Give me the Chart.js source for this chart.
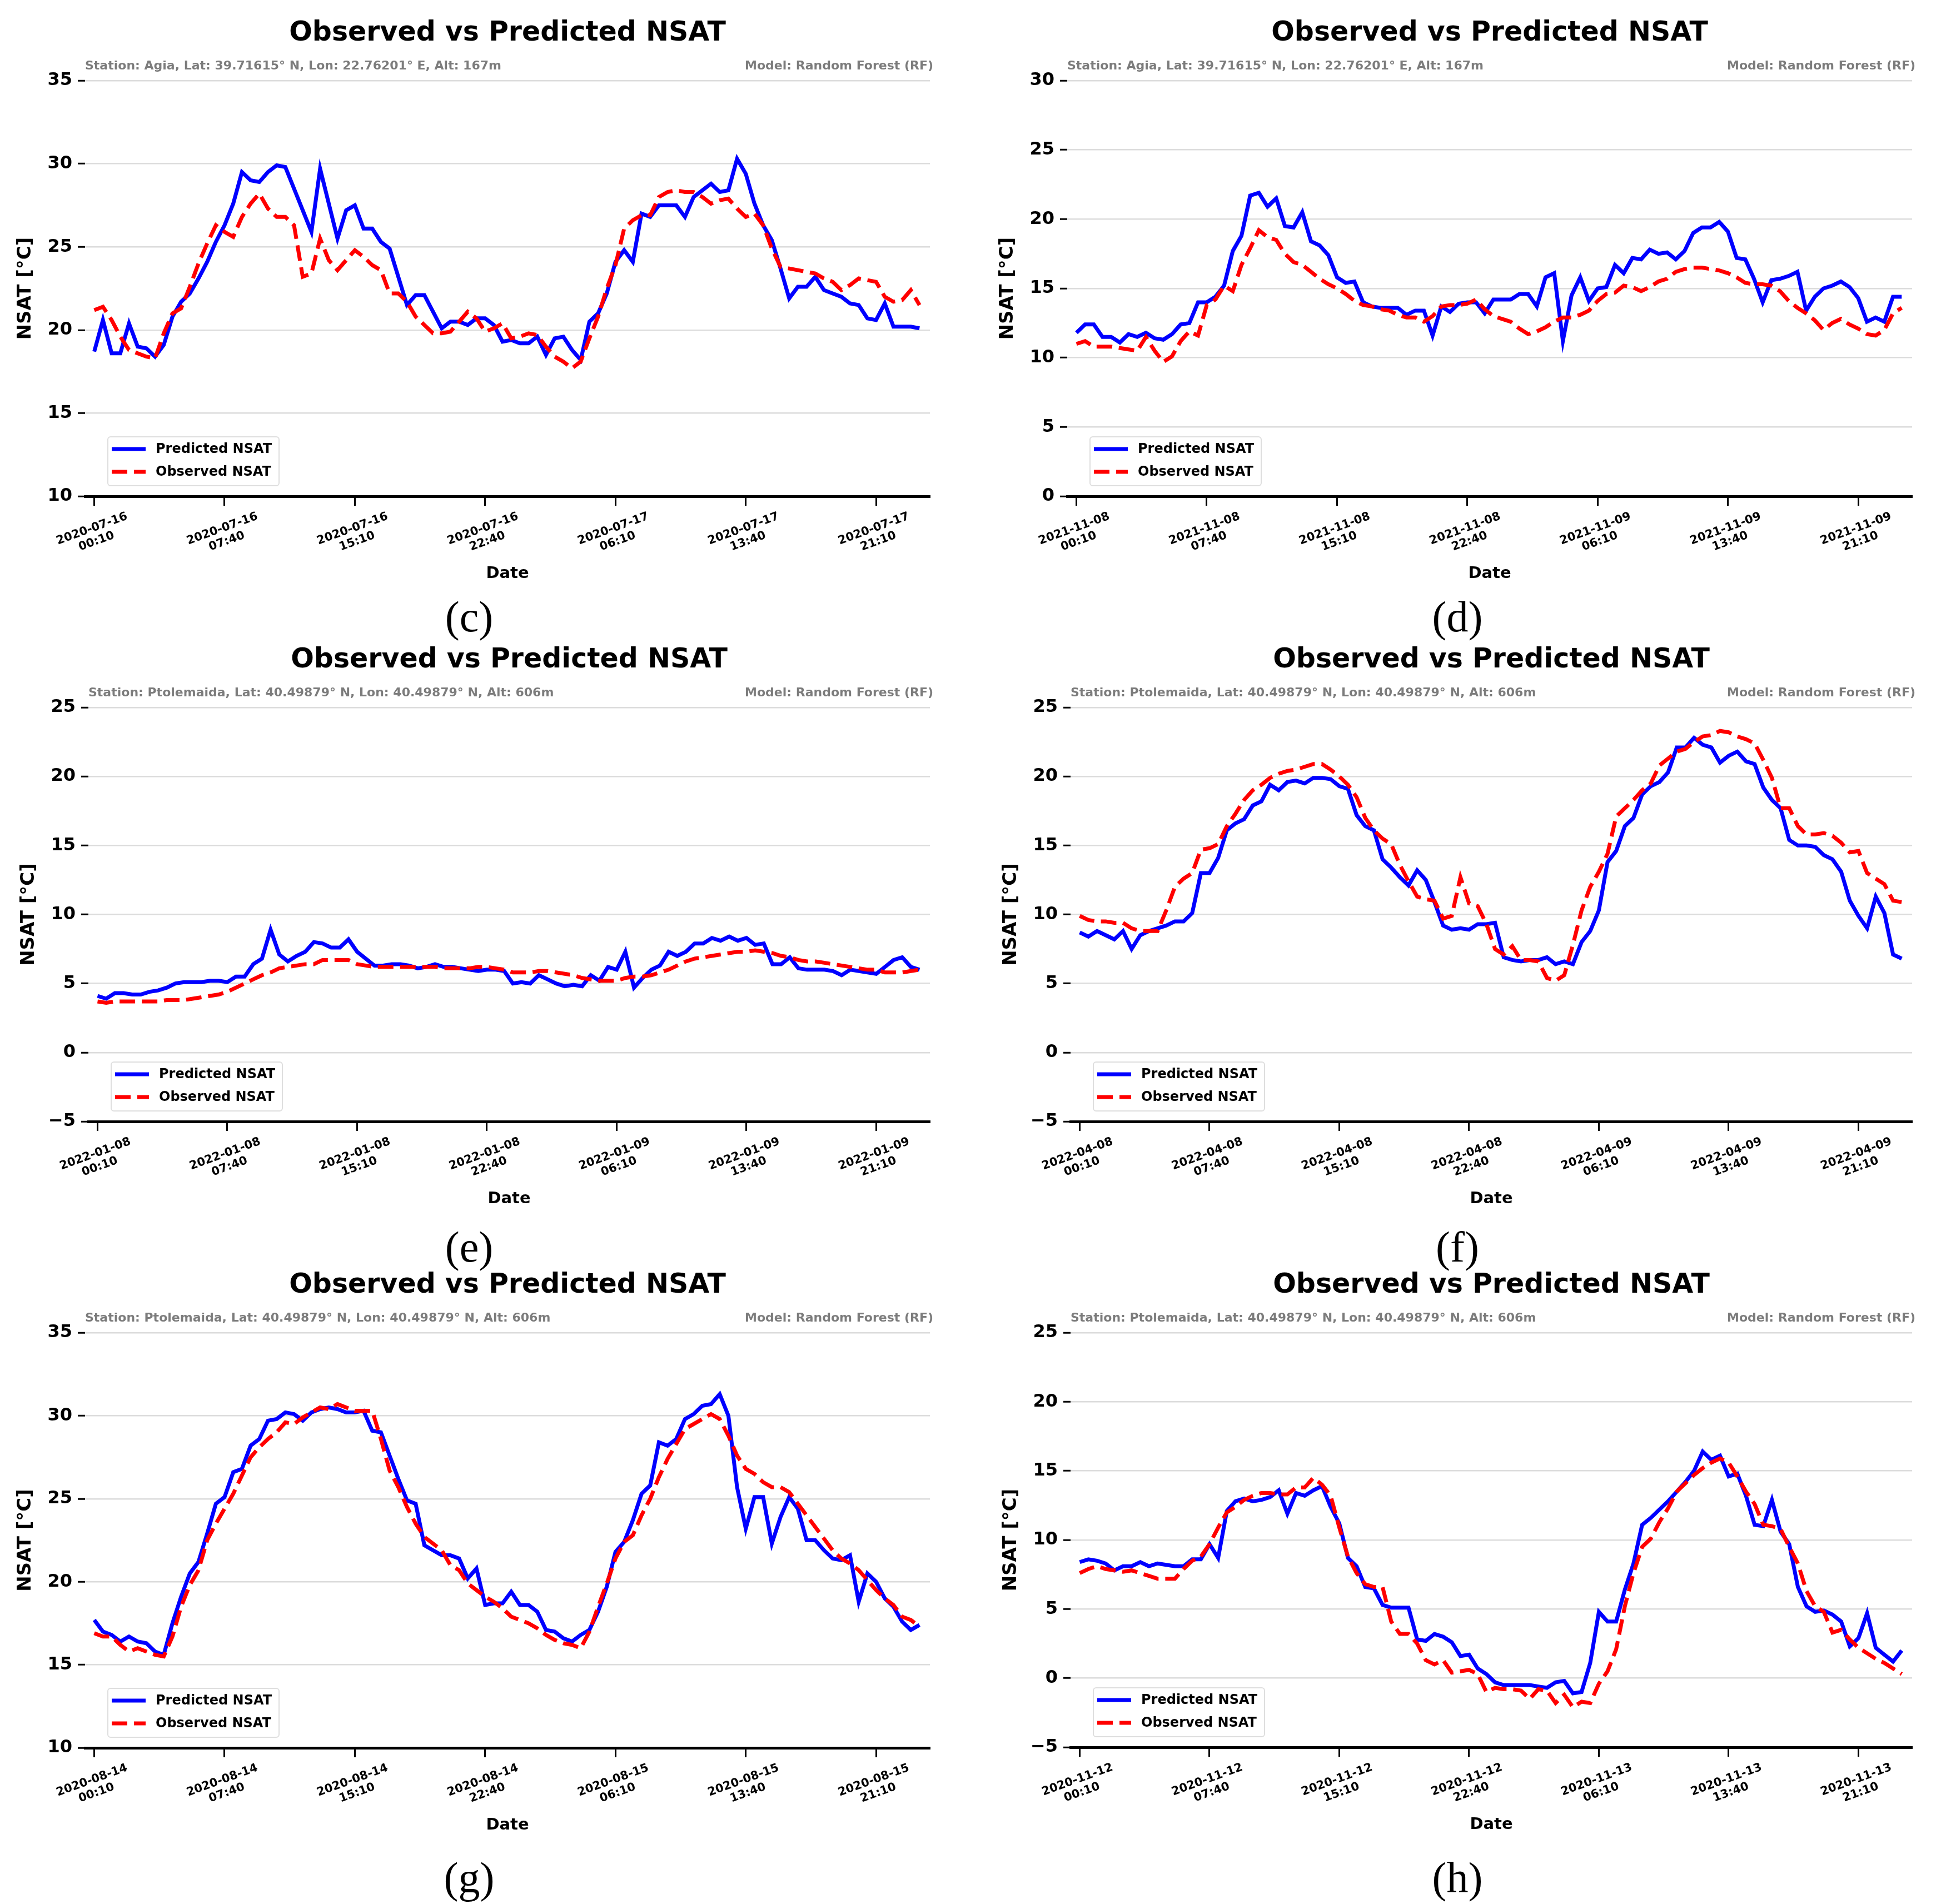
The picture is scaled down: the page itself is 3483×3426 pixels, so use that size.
<!DOCTYPE html>
<html>
<head>
<meta charset="utf-8">
<script src="https://cdn.jsdelivr.net/npm/chart.js@4.4.1/dist/chart.umd.min.js"></script>
<style>
  html, body { margin: 0; padding: 0; background: #fff; }
  body { width: 3483px; height: 3426px; position: relative; overflow: hidden; }
  canvas { position: absolute; }
  .cap { position: absolute; font-family: 'Liberation Serif', 'DejaVu Serif', serif; font-size: 78px; color: #000;
         transform: translate(-50%, -50%); white-space: nowrap; }
</style>
</head>
<body>
<script>
// x ticks every 7.5 h (15 half-hour steps)
const tickIdx = [0, 15, 30, 45, 60, 75, 90];
const tickTimes = ['00:10', '07:40', '15:10', '22:40', '06:10', '13:40', '21:10'];

const stationAgia = 'Station: Agia, Lat: 39.71615° N, Lon: 22.76201° E, Alt: 167m';
const stationPtol = 'Station: Ptolemaida, Lat: 40.49879° N, Lon: 40.49879° N, Alt: 606m';
const modelName = 'Model: Random Forest (RF)';

// (c) Agia, July 2020
const cDays = ['2020-07-16', '2020-07-17'];
const cPred = [18.7,20.6,18.6,18.6,20.4,19.0,18.9,18.4,19.1,20.8,21.7,22.2,23.1,24.1,25.3,26.3,27.6,29.5,29.0,28.9,
  29.5,29.9,29.8,28.5,27.2,25.9,29.7,27.6,25.5,27.2,27.5,26.1,26.1,25.3,24.9,23.2,21.5,22.1,22.1,21.1,
  20.1,20.5,20.5,20.3,20.7,20.7,20.3,19.3,19.4,19.2,19.2,19.6,18.5,19.5,19.6,18.8,18.2,20.5,21.0,22.2,
  24.1,24.8,24.1,27.0,26.8,27.5,27.5,27.5,26.8,28.0,28.4,28.8,28.3,28.4,30.3,29.4,27.6,26.3,25.4,23.7,
  21.9,22.6,22.6,23.2,22.4,22.2,22.0,21.6,21.5,20.7,20.6,21.6,20.2,20.2,20.2,20.1];
const cObs = [21.2,21.4,20.6,19.6,18.8,18.6,18.4,18.3,19.8,21.0,21.3,22.6,24.0,25.2,26.3,25.9,25.6,26.8,27.6,28.2,
  27.3,26.8,26.8,26.3,23.2,23.4,25.5,24.2,23.6,24.2,24.8,24.4,23.9,23.6,22.2,22.2,21.7,20.8,20.3,19.8,
  19.8,19.9,20.5,21.1,20.7,19.9,20.1,20.4,19.5,19.6,19.8,19.7,19.0,18.4,18.1,17.7,18.1,19.5,20.8,22.5,
  23.9,26.1,26.6,26.9,26.9,28.0,28.3,28.4,28.3,28.3,28.0,27.6,27.8,27.9,27.3,26.8,27.0,26.3,24.9,23.8,
  23.7,23.6,23.5,23.4,23.1,22.9,22.4,22.7,23.1,23.0,22.9,22.0,21.7,21.8,22.4,21.5];

// (d) Agia, November 2021
const dDays = ['2021-11-08', '2021-11-09'];
const dPred = [11.8,12.4,12.4,11.5,11.5,11.1,11.7,11.5,11.8,11.4,11.3,11.7,12.4,12.5,14.0,14.0,14.4,15.2,17.7,18.8,
  21.7,21.9,20.9,21.5,19.5,19.4,20.5,18.4,18.1,17.4,15.8,15.4,15.5,14.0,13.7,13.6,13.6,13.6,13.1,13.4,
  13.4,11.6,13.7,13.3,13.9,14.0,14.0,13.2,14.2,14.2,14.2,14.6,14.6,13.7,15.8,16.1,11.2,14.5,15.8,14.1,
  15.0,15.1,16.7,16.1,17.2,17.1,17.8,17.5,17.6,17.1,17.7,19.0,19.4,19.4,19.8,19.1,17.2,17.1,15.7,14.0,
  15.6,15.7,15.9,16.2,13.4,14.4,15.0,15.2,15.5,15.1,14.3,12.6,12.9,12.6,14.4,14.4];
const dObs = [11.0,11.2,10.8,10.8,10.8,10.7,10.6,10.5,11.5,10.5,9.7,10.1,11.2,11.9,11.6,13.8,14.2,15.2,14.8,16.7,
  17.9,19.2,18.7,18.5,17.5,16.9,16.7,16.2,15.7,15.3,15.0,14.6,14.1,13.8,13.7,13.5,13.4,13.1,12.9,12.9,
  12.6,13.0,13.7,13.8,13.8,13.9,14.2,13.5,13.0,12.8,12.6,12.1,11.7,11.9,12.2,12.6,12.9,12.9,13.1,13.4,
  14.1,14.6,14.7,15.2,15.1,14.8,15.1,15.5,15.7,16.2,16.4,16.5,16.5,16.4,16.3,16.1,15.8,15.4,15.3,15.3,
  15.2,14.8,14.1,13.6,13.2,12.7,12.0,12.5,12.8,12.4,12.1,11.7,11.6,12.0,13.2,13.6];

// (e) Ptolemaida, January 2022
const eDays = ['2022-01-08', '2022-01-09'];
const ePred = [4.1,3.9,4.3,4.3,4.2,4.2,4.4,4.5,4.7,5.0,5.1,5.1,5.1,5.2,5.2,5.1,5.5,5.5,6.4,6.8,
  8.9,7.1,6.6,7.0,7.3,8.0,7.9,7.6,7.6,8.2,7.3,6.8,6.3,6.3,6.4,6.4,6.3,6.1,6.2,6.4,
  6.2,6.2,6.1,6.0,5.9,6.0,6.0,5.9,5.0,5.1,5.0,5.6,5.3,5.0,4.8,4.9,4.8,5.6,5.2,6.2,
  6.0,7.3,4.7,5.4,6.0,6.3,7.3,7.0,7.3,7.9,7.9,8.3,8.1,8.4,8.1,8.3,7.8,7.9,6.4,6.4,
  6.9,6.1,6.0,6.0,6.0,5.9,5.6,6.0,5.9,5.8,5.7,6.2,6.7,6.9,6.2,6.0];
const eObs = [3.7,3.6,3.7,3.7,3.7,3.7,3.7,3.7,3.8,3.8,3.8,3.9,4.0,4.1,4.2,4.4,4.7,5.0,5.3,5.6,
  5.8,6.1,6.2,6.3,6.4,6.4,6.7,6.7,6.7,6.7,6.4,6.3,6.2,6.2,6.2,6.2,6.2,6.2,6.2,6.2,
  6.1,6.1,6.1,6.1,6.2,6.2,6.1,6.0,5.8,5.8,5.8,5.9,5.9,5.8,5.7,5.6,5.4,5.3,5.2,5.2,
  5.2,5.4,5.5,5.5,5.6,5.8,6.0,6.3,6.6,6.8,6.9,7.0,7.1,7.2,7.3,7.3,7.4,7.3,7.2,7.0,
  6.9,6.7,6.6,6.6,6.5,6.4,6.3,6.2,6.1,6.0,6.0,5.8,5.8,5.8,5.9,6.0];

// (f) Ptolemaida, April 2022
const fDays = ['2022-04-08', '2022-04-09'];
const fPred = [8.7,8.4,8.8,8.5,8.2,8.8,7.5,8.5,8.8,9.0,9.2,9.5,9.5,10.1,13.0,13.0,14.1,16.1,16.6,16.9,
  17.9,18.2,19.4,19.0,19.6,19.7,19.5,19.9,19.9,19.8,19.3,19.1,17.2,16.4,16.1,14.0,13.4,12.7,12.1,13.2,
  12.5,10.9,9.2,8.9,9.0,8.9,9.3,9.3,9.4,6.9,6.7,6.6,6.7,6.7,6.9,6.4,6.6,6.4,8.0,8.8,
  10.3,13.8,14.6,16.4,17.0,18.7,19.3,19.6,20.3,22.1,22.1,22.8,22.3,22.1,21.0,21.5,21.8,21.1,20.9,19.2,
  18.3,17.7,15.4,15.0,15.0,14.9,14.3,14.0,13.1,11.0,9.9,9.0,11.3,10.1,7.1,6.8];
const fObs = [9.9,9.6,9.5,9.5,9.4,9.4,9.0,8.8,8.8,8.8,10.3,12.0,12.6,13.0,14.7,14.8,15.1,16.4,17.3,18.3,
  19.0,19.4,19.9,20.2,20.4,20.5,20.7,20.9,20.9,20.5,20.0,19.4,18.5,17.0,16.1,15.5,15.1,13.6,12.4,11.3,
  11.1,11.0,9.7,9.9,12.7,10.8,10.6,9.3,7.5,7.1,7.7,6.7,6.7,6.6,5.4,5.2,5.6,7.8,10.3,12.0,
  13.1,14.4,17.1,17.7,18.3,19.0,19.5,20.8,21.3,21.8,22.0,22.5,22.9,23.0,23.3,23.2,22.9,22.7,22.4,21.2,
  19.9,17.7,17.7,16.4,15.8,15.8,15.9,15.7,15.2,14.5,14.6,13.0,12.6,12.2,11.0,10.9];

// (g) Ptolemaida, August 2020
const gDays = ['2020-08-14', '2020-08-15'];
const gPred = [17.7,17.0,16.8,16.4,16.7,16.4,16.3,15.8,15.6,17.5,19.1,20.5,21.2,22.9,24.7,25.1,26.6,26.8,28.2,28.6,
  29.7,29.8,30.2,30.1,29.7,30.2,30.4,30.5,30.4,30.2,30.2,30.3,29.1,29.0,27.6,26.2,24.9,24.7,22.2,21.9,
  21.6,21.6,21.4,20.2,20.8,18.6,18.7,18.7,19.4,18.6,18.6,18.2,17.1,17.0,16.6,16.4,16.8,17.1,18.2,19.7,
  21.8,22.4,23.7,25.3,25.8,28.4,28.2,28.6,29.8,30.1,30.6,30.7,31.3,30.0,25.7,23.2,25.1,25.1,22.3,23.9,
  25.1,24.4,22.5,22.5,21.9,21.4,21.3,21.6,18.8,20.5,20.0,19.0,18.5,17.6,17.1,17.4];
const gObs = [16.9,16.7,16.7,16.2,15.8,16.0,15.8,15.6,15.5,16.7,18.5,19.8,20.7,22.5,23.5,24.4,25.3,26.4,27.5,28.1,
  28.6,29.0,29.6,29.5,29.9,30.2,30.5,30.4,30.7,30.5,30.3,30.3,30.3,28.6,26.7,25.7,24.5,23.5,22.7,22.3,
  21.9,21.0,20.7,19.9,19.5,19.1,18.8,18.4,17.9,17.7,17.5,17.2,16.8,16.5,16.3,16.2,16.0,17.0,18.5,19.9,
  21.4,22.4,22.8,24.0,25.0,26.3,27.4,28.3,29.2,29.5,29.8,30.1,29.8,28.8,27.6,26.8,26.5,26.0,25.7,25.7,
  25.4,24.7,24.0,23.3,22.6,21.9,21.4,21.1,20.7,20.1,19.5,19.0,18.6,17.9,17.7,17.3];

// (h) Ptolemaida, November 2020
const hDays = ['2020-11-12', '2020-11-13'];
const hPred = [8.4,8.6,8.5,8.3,7.8,8.1,8.1,8.4,8.1,8.3,8.2,8.1,8.1,8.6,8.6,9.7,8.7,12.1,12.8,13.0,
  12.8,12.9,13.1,13.6,11.9,13.4,13.2,13.6,13.9,12.4,11.2,8.7,8.1,6.6,6.5,5.3,5.1,5.1,5.1,2.8,
  2.7,3.2,3.0,2.6,1.6,1.7,0.7,0.3,-0.3,-0.5,-0.5,-0.5,-0.5,-0.6,-0.7,-0.3,-0.2,-1.1,-1.0,1.1,
  4.8,4.1,4.1,6.4,8.3,11.1,11.6,12.2,12.8,13.5,14.2,15.0,16.4,15.8,16.1,14.6,14.8,13.2,11.1,11.0,
  12.9,10.6,9.7,6.6,5.2,4.8,4.9,4.6,4.1,2.3,2.9,4.7,2.2,1.7,1.2,2.0];
const hObs = [7.6,7.9,8.1,7.9,7.8,7.7,7.8,7.6,7.4,7.2,7.2,7.2,7.9,8.5,8.8,9.7,10.9,12.0,12.4,12.9,
  13.2,13.4,13.4,13.3,13.3,13.8,13.8,14.5,14.0,13.2,10.9,8.8,7.6,6.8,6.6,6.6,4.1,3.2,3.2,2.5,
  1.3,1.0,1.3,0.4,0.5,0.6,0.3,-1.0,-0.7,-0.8,-0.8,-0.9,-1.5,-0.8,-0.9,-1.8,-1.2,-2.1,-1.7,-1.8,
  -0.4,0.5,2.1,5.2,7.6,9.5,10.1,11.3,12.3,13.5,14.1,14.7,15.2,15.6,15.9,15.6,14.6,13.5,12.6,11.1,
  11.0,10.8,9.5,8.3,6.3,5.2,4.8,3.3,3.5,2.8,2.2,1.8,1.4,1.1,0.7,0.3];

// layout: plot box [left, right, top, bottom] in page px, caption centre
const panels = [
  { cap: '(c)', days: cDays, pred: cPred, obs: cObs, station: stationAgia, yMin: 10, yMax: 35, box: [153, 1673, 145, 893], capPos: [844, 1110] },
  { cap: '(d)', days: dDays, pred: dPred, obs: dObs, station: stationAgia, yMin: 0, yMax: 30, box: [1920, 3440, 145, 893], capPos: [2622, 1110] },
  { cap: '(e)', days: eDays, pred: ePred, obs: eObs, station: stationPtol, yMin: -5, yMax: 25, box: [159, 1673, 1273, 2018], capPos: [844, 2244] },
  { cap: '(f)', days: fDays, pred: fPred, obs: fObs, station: stationPtol, yMin: -5, yMax: 25, box: [1926, 3440, 1273, 2018], capPos: [2622, 2244] },
  { cap: '(g)', days: gDays, pred: gPred, obs: gObs, station: stationPtol, yMin: 10, yMax: 35, box: [153, 1673, 2398, 3145], capPos: [844, 3379] },
  { cap: '(h)', days: hDays, pred: hPred, obs: hObs, station: stationPtol, yMin: -5, yMax: 25, box: [1926, 3440, 2398, 3144], capPos: [2622, 3379] }
];

Chart.defaults.font.family = '"DejaVu Sans", sans-serif';

const PAD_L = 10, Y_W = 143, PAD_R = 67, PAD_T = 145, X_H = 157, PAD_B = 30;

// titles, station line, rotated date ticks and legend
const decor = {
  id: 'decor',
  afterDraw(chart, args, o) {
    const { ctx, chartArea: a } = chart;
    const x = chart.scales.x;
    ctx.save();
    ctx.textBaseline = 'middle';
    ctx.fillStyle = '#000';
    ctx.font = 'bold 49px "DejaVu Sans"';
    ctx.textAlign = 'center';
    ctx.fillText('Observed vs Predicted NSAT', (a.left + a.right) / 2, a.top - 85);

    ctx.font = 'bold 22px "DejaVu Sans"';
    ctx.fillStyle = '#7c7c7c';
    ctx.textAlign = 'left';
    ctx.fillText(o.station, a.left, a.top - 26);
    ctx.textAlign = 'right';
    ctx.fillText(modelName, a.right + 6, a.top - 26);

    ctx.fillStyle = '#000';
    ctx.font = 'bold 21px "DejaVu Sans"';
    ctx.textAlign = 'center';
    tickIdx.forEach((v, i) => {
      const px = x.getPixelForValue(v);
      ctx.save();
      ctx.translate(px, a.bottom + 70);
      ctx.rotate(-20 * Math.PI / 180);
      ctx.fillText(o.days[i < 4 ? 0 : 1], 0, -12);
      ctx.fillText(tickTimes[i], 0, 12);
      ctx.restore();
    });

    // legend box
    const lx = a.left + 41, ly = a.bottom - 107, lw = 308, lh = 88;
    ctx.fillStyle = 'rgba(255,255,255,0.85)';
    ctx.strokeStyle = '#dedede';
    ctx.lineWidth = 2;
    ctx.beginPath();
    ctx.roundRect(lx, ly, lw, lh, 5);
    ctx.fill();
    ctx.stroke();
    chart.data.datasets.forEach((ds, i) => {
      const yy = ly + 22 + i * 41;
      ctx.strokeStyle = ds.borderColor;
      ctx.lineWidth = ds.borderWidth;
      ctx.setLineDash(ds.borderDash || []);
      ctx.beginPath();
      ctx.moveTo(lx + 7, yy);
      ctx.lineTo(lx + 68, yy);
      ctx.stroke();
      ctx.setLineDash([]);
      ctx.fillStyle = '#000';
      ctx.font = 'bold 24px "DejaVu Sans"';
      ctx.textAlign = 'left';
      ctx.fillText(ds.label, lx + 86, yy + 1);
    });
    ctx.restore();
  }
};

panels.forEach(p => {
  const [L, R, T, B] = p.box;
  const cv = document.createElement('canvas');
  const w = (R - L) + PAD_L + Y_W + PAD_R;
  const h = (B - T) + PAD_T + X_H + PAD_B;
  cv.width = w; cv.height = h;
  cv.style.left = (L - PAD_L - Y_W) + 'px';
  cv.style.top = (T - PAD_T) + 'px';
  cv.style.width = w + 'px';
  cv.style.height = h + 'px';
  document.body.appendChild(cv);

  const cap = document.createElement('div');
  cap.className = 'cap';
  cap.textContent = p.cap;
  cap.style.left = p.capPos[0] + 'px';
  cap.style.top = p.capPos[1] + 'px';
  document.body.appendChild(cap);

  new Chart(cv, {
    type: 'line',
    data: {
      datasets: [
        { label: 'Predicted NSAT', data: p.pred.map((v, i) => ({ x: i, y: v })),
          borderColor: '#0000ff', borderWidth: 7, pointRadius: 0, tension: 0, order: 1 },
        { label: 'Observed NSAT', data: p.obs.map((v, i) => ({ x: i, y: v })),
          borderColor: '#ff0000', borderWidth: 7, borderDash: [28, 12], pointRadius: 0, tension: 0, order: 0 }
      ]
    },
    options: {
      responsive: false,
      animation: false,
      devicePixelRatio: 1,
      layout: { padding: { left: PAD_L, right: PAD_R, top: PAD_T, bottom: PAD_B } },
      plugins: {
        legend: { display: false },
        tooltip: { enabled: false },
        decor: { station: p.station, days: p.days }
      },
      scales: {
        x: {
          type: 'linear', min: -1.06, max: 96.2,
          afterBuildTicks: s => { s.ticks = tickIdx.map(v => ({ value: v })); },
          afterFit: s => { s.height = X_H; s.paddingLeft = 0; s.paddingRight = 0; },
          ticks: { display: false },
          grid: { drawOnChartArea: false, drawTicks: true, tickLength: 17, tickColor: '#000', tickWidth: 3 },
          border: { display: true, color: '#000', width: 5 },
          title: { display: true, text: 'Date', color: '#000', font: { size: 29, weight: 'bold' }, padding: { top: 0, bottom: 0 } }
        },
        y: {
          min: p.yMin, max: p.yMax,
          afterFit: s => { s.width = Y_W; s.paddingTop = 0; s.paddingBottom = 0; },
          ticks: { stepSize: 5, color: '#000', padding: 10, font: { size: 32, weight: 'bold' },
                   callback: v => v < 0 ? '\u2212' + (-v) : String(v) },
          grid: { color: c => c.tick && c.tick.value === p.yMin ? 'rgba(0,0,0,0)' : '#dcdcdc',
                  lineWidth: 2.5, tickColor: '#000', tickLength: 13, tickWidth: 3 },
          border: { display: false },
          title: { display: true, text: 'NSAT [°C]', color: '#000', font: { size: 34, weight: 'bold' }, padding: { top: 16, bottom: 0 } }
        }
      }
    },
    plugins: [decor]
  });
});
</script>
</body>
</html>
